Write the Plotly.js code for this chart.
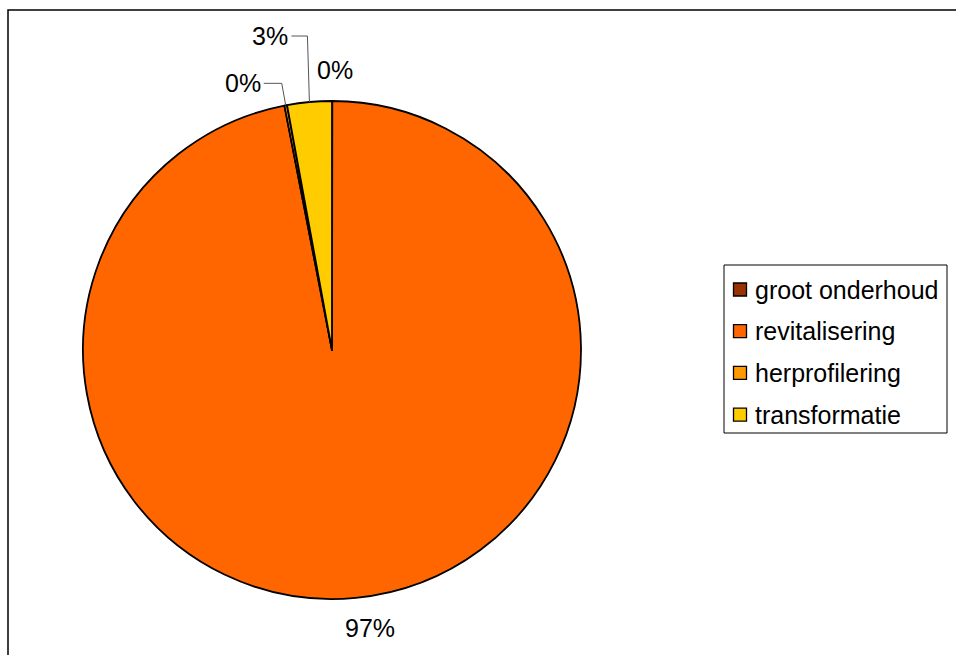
<!DOCTYPE html>
<html>
<head>
<meta charset="utf-8">
<script src="https://cdn.plot.ly/plotly-3.0.1.min.js"></script>
<style>html,body{margin:0;padding:0;background:#fff;}#chart{width:956px;height:655px;}</style>
</head>
<body>
<div id="chart"></div>
<script>
// ---- data ----
var categories = ["groot onderhoud", "revitalisering", "herprofilering", "transformatie"];
var values = [0.02, 96.92, 0.17, 2.89];
var percentLabels = ["0%", "97%", "0%", "3%"];
var colors = ["#993300", "#FF6600", "#FF9900", "#FFCC00"];

// ---- layout settings ----
var W = 956, H = 655;
var CX = 332, CY = 350, R = 249;
var FONT = "Liberation Sans, Arial, sans-serif";
var FS = 25;
// label placement hints per slice: dx/dy offsets (px) from slice edge point
var labelCfg = [
  {mode: "plain", dx: -17, dy: -31, xanchor: "left"},
  {mode: "plain", dx: 14, dy: 30, xanchor: "center"},
  {mode: "leader", elbowDx: -4, elbowDy: -22, tail: 18, xanchor: "right"},
  {mode: "leader", elbowDx: -2, elbowDy: -66, tail: 16, xanchor: "right"}
];

function px(x) { return x / W; }
function py(y) { return 1 - y / H; }

var total = values.reduce(function (a, b) { return a + b; }, 0);
var annotations = [];
var shapes = [];

// outer chart border
shapes.push({type: "rect", xref: "paper", yref: "paper",
  x0: px(8), x1: px(W + 10), y0: py(10), y1: py(H + 10),
  line: {color: "#000", width: 1.5}, fillcolor: "rgba(0,0,0,0)", layer: "below"});

// slice labels computed from the data angles
var cum = 0;
for (var i = 0; i < values.length; i++) {
  var mid = (cum + values[i] / 2) / total * 2 * Math.PI;
  cum += values[i];
  var ex = CX + R * Math.sin(mid);
  var ey = CY - R * Math.cos(mid);
  var c = labelCfg[i];
  if (c.mode === "plain") {
    annotations.push({xref: "paper", yref: "paper", x: px(ex + c.dx), y: py(ey + c.dy),
      text: percentLabels[i], showarrow: false, xanchor: c.xanchor, yanchor: "middle",
      font: {family: FONT, size: FS, color: "#000"}});
  } else {
    var bx = ex + c.elbowDx, by = ey + c.elbowDy;
    var tx = bx - c.tail;
    shapes.push({type: "path", xref: "paper", yref: "paper",
      path: "M" + px(ex) + "," + py(ey) + " L" + px(bx) + "," + py(by) + " L" + px(tx) + "," + py(by),
      line: {color: "#555", width: 1}});
    annotations.push({xref: "paper", yref: "paper", x: px(tx - 1), y: py(by),
      text: percentLabels[i], showarrow: false, xanchor: "right", yanchor: "middle",
      font: {family: FONT, size: FS, color: "#000"}});
  }
}

// legend box built from the categories
var LX0 = 724, LX1 = 947, LY0 = 265, LY1 = 433;
var rowY0 = 289.5, rowGap = 41.7;
shapes.push({type: "rect", xref: "paper", yref: "paper",
  x0: px(LX0), x1: px(LX1), y0: py(LY0), y1: py(LY1),
  line: {color: "#000", width: 1}, fillcolor: "#fff"});
for (var j = 0; j < categories.length; j++) {
  var cy = rowY0 + j * rowGap;
  shapes.push({type: "rect", xref: "paper", yref: "paper",
    x0: px(733.5), x1: px(746.5), y0: py(cy - 6.5), y1: py(cy + 6.5),
    line: {color: "#000", width: 1.3}, fillcolor: colors[j]});
  annotations.push({xref: "paper", yref: "paper", x: px(753), y: py(cy),
    text: categories[j], showarrow: false, xanchor: "left", yanchor: "middle",
    font: {family: FONT, size: FS, color: "#000"}});
}

var trace = {
  type: "pie",
  labels: categories,
  values: values,
  sort: false,
  direction: "clockwise",
  rotation: 0,
  textinfo: "none",
  hoverinfo: "label+percent",
  marker: {colors: colors, line: {color: "#000", width: 1.8}},
  domain: {x: [px(CX - R), px(CX + R)], y: [py(CY + R), py(CY - R)]},
  showlegend: false
};

var layout = {
  width: W, height: H,
  margin: {l: 0, r: 0, t: 0, b: 0},
  paper_bgcolor: "#fff",
  showlegend: false,
  shapes: shapes,
  annotations: annotations
};

Plotly.newPlot("chart", [trace], layout, {displayModeBar: false, staticPlot: true});
</script>
</body>
</html>
